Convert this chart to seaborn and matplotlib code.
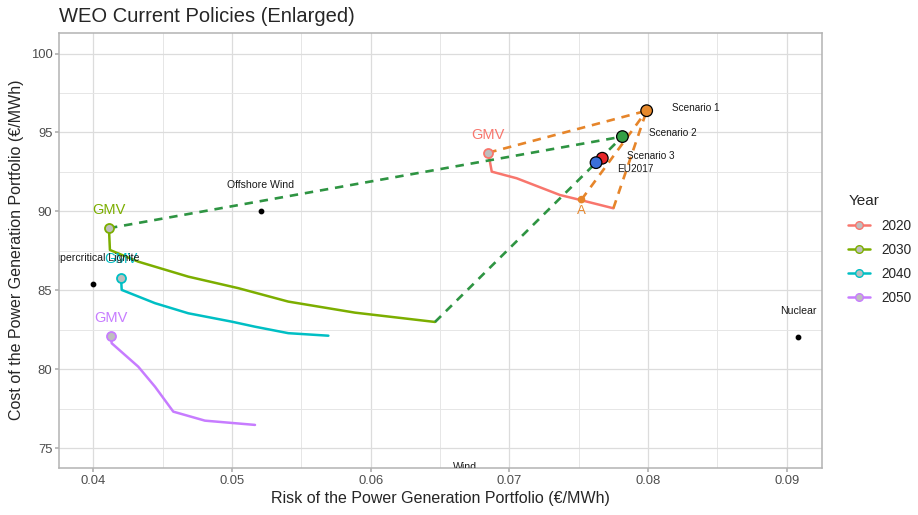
import numpy as np
import pandas as pd
import seaborn as sns
import matplotlib
matplotlib.use("Agg")
import matplotlib.pyplot as plt
from matplotlib.lines import Line2D

# efficient frontiers per year (risk in EUR/MWh, cost in EUR/MWh)
years = ['2020', '2030', '2040', '2050']
risk_2020 = [0.06848, 0.06873, 0.07053, 0.07365, 0.07510, 0.07750]
cost_2020 = [93.72, 92.52, 92.10, 91.04, 90.73, 90.20]
risk_2030 = [0.04113, 0.04120, 0.04324, 0.04685, 0.05046, 0.05406, 0.05887, 0.06464]
cost_2030 = [88.94, 87.56, 86.82, 85.87, 85.14, 84.29, 83.59, 83.00]
risk_2040 = [0.04200, 0.04205, 0.04445, 0.04685, 0.04998, 0.05166, 0.05406, 0.05695]
cost_2040 = [85.81, 85.03, 84.19, 83.55, 83.02, 82.70, 82.29, 82.13]
risk_2050 = [0.04125, 0.04133, 0.04324, 0.04445, 0.04577, 0.04805, 0.05166]
cost_2050 = [82.12, 81.65, 80.17, 78.90, 77.32, 76.75, 76.48]

# scenario portfolios
scenario_names = ['Scenario 1', 'Scenario 2', 'Scenario 3', 'EU2017']
scenario_risk = [0.07990, 0.07815, 0.07670, 0.07625]
scenario_cost = [96.38, 94.74, 93.37, 93.09]

# point A on the 2020 frontier
a_risk = 0.07520
a_cost = 90.75

# single technologies
tech_names = ['Supercritical Lignite', 'Offshore Wind', 'Nuclear', 'Wind']
tech_risk = [0.03996, 0.05209, 0.09084, 0.06680]
tech_cost = [85.39, 90.03, 82.07, 72.19]

year_colors = ['#F8766D', '#7CAE00', '#00BFC4', '#C77CFF']
scen_colors = ['#E6892C', '#34A046', '#E8262A', '#3A6FD8']
orange = '#E6852A'
green = '#2E9442'

frontiers = {'2020': (risk_2020, cost_2020), '2030': (risk_2030, cost_2030),
             '2040': (risk_2040, cost_2040), '2050': (risk_2050, cost_2050)}
df = pd.concat([pd.DataFrame({'risk': r, 'cost': c, 'Year': y})
                for y, (r, c) in frontiers.items()], ignore_index=True)

sns.set_theme(style='whitegrid')
plt.rcParams['font.family'] = ['Liberation Sans', 'DejaVu Sans']

fig = plt.figure(figsize=(9.18, 5.15), dpi=100)
ax = fig.add_axes([59.3 / 918, 1 - 467.7 / 515, (821.7 - 59.3) / 918, (467.7 - 32.7) / 515])

sns.lineplot(data=df, x='risk', y='cost', hue='Year', palette=year_colors, sort=False,
             estimator=None, units='Year', linewidth=1.8, legend=False, ax=ax, zorder=3)

# dashed connections to the scenarios
dash = dict(linestyle=(0, (3.2, 2.6)), linewidth=1.9, zorder=4)
s1 = (scenario_risk[0], scenario_cost[0])
s2 = (scenario_risk[1], scenario_cost[1])
for x0, y0 in [(risk_2020[0], cost_2020[0]), (a_risk, a_cost), (risk_2020[-1], cost_2020[-1])]:
    ax.plot([x0, s1[0]], [y0, s1[1]], color=orange, **dash)
for x0, y0 in [(risk_2030[0], cost_2030[0]), (risk_2030[-1], cost_2030[-1])]:
    ax.plot([x0, s2[0]], [y0, s2[1]], color=green, **dash)

# GMV points and labels
for y, col in zip(years, year_colors):
    r, c = frontiers[y]
    ax.scatter(r[0], c[0], s=42, color='#BEBEBE', edgecolor=col, linewidth=1.3, zorder=6)
    ax.text(r[0], c[0] + 1.15, 'GMV', color=col, fontsize=10.5, ha='center', va='center', zorder=7)

# scenario points
sns.scatterplot(x=scenario_risk, y=scenario_cost, hue=scenario_names, palette=scen_colors,
                s=70, edgecolor='black', linewidth=0.9, legend=False, ax=ax, zorder=8)
label_dy = [0.2, 0.2, 0.15, -0.4]
label_dx = [0.0018, 0.0019, 0.0018, 0.0015]
for n, x, y, dx, dy in zip(scenario_names, scenario_risk, scenario_cost, label_dx, label_dy):
    ax.text(x + dx, y + dy, n, fontsize=7.2, ha='left', va='center', color='#1a1a1a', zorder=9)

ax.scatter(a_risk, a_cost, s=30, color=orange, edgecolor='none', zorder=8)
ax.text(a_risk, a_cost - 0.7, 'A', color=orange, fontsize=9.5, ha='center', va='center', zorder=9)

# technologies
ax.scatter(tech_risk, tech_cost, s=10, color='black', zorder=5)
for n, x, y in zip(tech_names, tech_risk, tech_cost):
    ax.text(x, y + 1.65, n, fontsize=7.6, ha='center', va='center', color='#1a1a1a',
            clip_on=True, zorder=9)

ax.set_xticks([0.04, 0.05, 0.06, 0.07, 0.08, 0.09])
ax.set_xticklabels(['0.04', '0.05', '0.06', '0.07', '0.08', '0.09'])
ax.set_yticks([75, 80, 85, 90, 95, 100])
ax.set_xticks(np.arange(0.045, 0.095, 0.01), minor=True)
ax.set_yticks(np.arange(77.5, 100, 5), minor=True)
ax.set_xlim(0.03755, 0.09252)
ax.set_ylim(73.77, 101.32)
ax.grid(which='major', color='#DCDCDC', linewidth=0.9)
ax.grid(which='minor', color='#E6E6E6', linewidth=0.7)
for sp in ax.spines.values():
    sp.set_color('#B3B3B3')
    sp.set_linewidth(1.1)
ax.tick_params(which='major', length=3, color='#B3B3B3', labelsize=9.4, labelcolor='#4D4D4D',
               bottom=True, left=True, pad=2)
ax.tick_params(which='minor', length=0)
ax.set_xlabel('Risk of the Power Generation Portfolio (€/MWh)', fontsize=11.5, labelpad=3)
ax.set_ylabel('Cost of the Power Generation Portfolio (€/MWh)', fontsize=11.5, labelpad=5)

fig.text(59.3 / 918, 1 - 16 / 515, 'WEO Current Policies (Enlarged)', fontsize=14.5,
         ha='left', va='center')

handles = [Line2D([0], [0], color=c, linewidth=1.8, marker='o', markersize=5.5,
                  markerfacecolor='#BEBEBE', markeredgecolor=c) for c in year_colors]
fig.legend(handles, years, title='Year', loc='center left', bbox_to_anchor=(836 / 918, 0.515),
           frameon=False, fontsize=9.8, title_fontsize=11, handlelength=1.6,
           labelspacing=0.75, alignment='left')

fig.savefig('out.png', dpi=100)
